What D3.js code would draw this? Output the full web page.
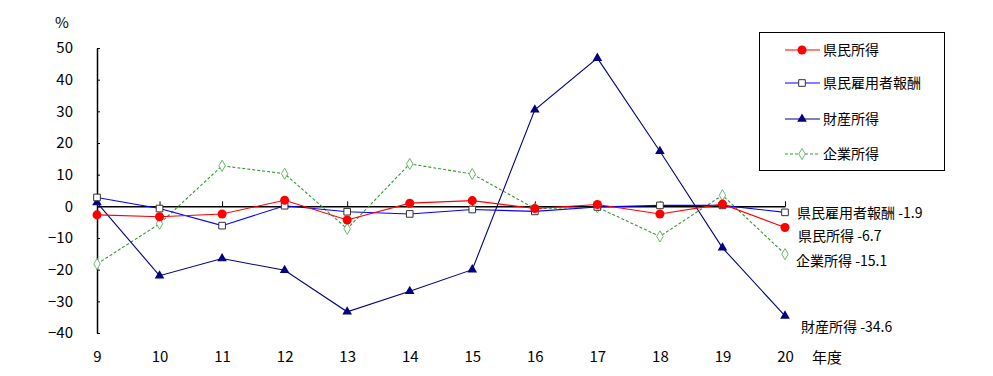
<!DOCTYPE html>
<html>
<head>
<meta charset="utf-8">
<script src="https://cdn.jsdelivr.net/npm/d3@7"></script>
<style>
  body { margin: 0; background: #fff; }
  svg text { font-family: "Noto Sans CJK JP", "DejaVu Sans", sans-serif; font-size: 14px; fill: #000; }
  svg .tick text { font-size: 15px; }
</style>
</head>
<body>
<svg id="chart" width="993" height="376"></svg>
<script>
// fiscal years
const years = ['9', '10', '11', '12', '13', '14', '15', '16', '17', '18', '19', '20']
const yTicks = [-40, -30, -20, -10, 0, 10, 20, 30, 40, 50]

// growth rates, %
const kenminShotoku = [-2.7, -3.3, -2.4, 1.9, -4.3, 1.0, 1.8, -0.7, 0.6, -2.4, 0.7, -6.7]
const koyoshaHoshu = [2.8, -0.7, -6.1, 0.2, -1.7, -2.4, -1.0, -1.6, -0.2, 0.3, 0.3, -1.9]
const zaisanShotoku = [1.2, -21.9, -16.5, -20.2, -33.3, -26.8, -20.0, 30.5, 46.8, 17.4, -13.1, -34.6]
const kigyoShotoku = [-18.2, -5.5, 12.8, 10.3, -7.1, 13.4, 10.2, -0.7, -0.3, -9.5, 3.5, -15.1]

const series = [
  { name: '県民所得', values: kenminShotoku, color: '#ff0000', marker: 'circle' },
  { name: '県民雇用者報酬', values: koyoshaHoshu, color: '#0000ff', marker: 'square' },
  { name: '財産所得', values: zaisanShotoku, color: '#000080', marker: 'triangle' },
  { name: '企業所得', values: kigyoShotoku, color: '#339933', marker: 'diamond', dash: '3,2' }
]

const svg = d3.select('#chart')

const x = d3.scalePoint().domain(years).range([97, 785])
const y = d3.scaleLinear().domain([-40, 50]).range([333, 48])

// y axis, ticks pointing inward
svg.append('g')
  .attr('transform', 'translate(97,0)')
  .call(d3.axisLeft(y).tickValues(yTicks).tickSizeInner(-3).tickSizeOuter(0).tickPadding(24))
  .call(g => g.select('.domain').attr('stroke', '#000').attr('stroke-width', 1.5))
  .call(g => g.selectAll('.tick line').attr('stroke', '#000'))

// zero line with category ticks
svg.append('g')
  .attr('transform', `translate(0,${y(0)})`)
  .call(d3.axisBottom(x).tickSizeInner(-5).tickSizeOuter(0).tickFormat(''))
  .call(g => g.select('.domain').attr('stroke', '#000').attr('stroke-width', 1.5))
  .call(g => g.selectAll('.tick line').attr('stroke', '#000'))

// category labels at the bottom
svg.append('g')
  .attr('transform', 'translate(0,333)')
  .call(d3.axisBottom(x).tickSize(0).tickPadding(18))
  .call(g => g.select('.domain').remove())

svg.append('text').attr('x', 55).attr('y', 28).style('font-size', '15px').text('%')
svg.append('text').attr('x', 812).attr('y', 363).style('font-size', '15px').text('年度')

const symbolFor = {
  circle: d3.symbol(d3.symbolCircle, 64),
  square: d3.symbol(d3.symbolSquare, 44),
  triangle: d3.symbol(d3.symbolTriangle, 40),
  diamond: d3.symbol(d3.symbolDiamond, 36)
}

function drawMarker(g, s) {
  const p = g.append('path').attr('d', symbolFor[s.marker]())
  if (s.marker == 'circle') p.attr('fill', '#ff0000')
  else if (s.marker == 'square') p.attr('fill', '#fff').attr('stroke', '#333').attr('stroke-width', 1)
  else if (s.marker == 'triangle') p.attr('fill', '#000080')
  else p.attr('fill', '#fff').attr('stroke', '#66bb66').attr('stroke-width', 1)
}

const line = d3.line()
  .x((d, i) => x(years[i]))
  .y(d => y(d))

// draw in reverse so red sits on top
for (const s of series.slice().reverse()) {
  svg.append('path')
    .datum(s.values)
    .attr('d', line)
    .attr('fill', 'none')
    .attr('stroke', s.color)
    .attr('stroke-width', 1.1)
    .attr('stroke-dasharray', s.dash || null)
  s.values.forEach((v, i) => {
    const g = svg.append('g').attr('transform', `translate(${x(years[i])},${y(v)})`)
    drawMarker(g, s)
  })
}

// end-of-line labels
const endLabels = [
  { text: '県民雇用者報酬 -1.9', x: 797, y: 218 },
  { text: '県民所得 -6.7', x: 798, y: 241 },
  { text: '企業所得 -15.1', x: 796, y: 266 },
  { text: '財産所得 -34.6', x: 801, y: 332 }
]
svg.selectAll('.endlabel')
  .data(endLabels)
  .join('text')
  .attr('class', 'endlabel')
  .attr('x', d => d.x)
  .attr('y', d => d.y)
  .text(d => d.text)

// legend
const legend = svg.append('g')
legend.append('rect')
  .attr('x', 759.5).attr('y', 32.5).attr('width', 185).attr('height', 138)
  .attr('fill', '#fff').attr('stroke', '#000')
const rowY = [50, 83, 119, 154]
series.forEach((s, i) => {
  const row = legend.append('g').attr('transform', `translate(0,${rowY[i]})`)
  row.append('line')
    .attr('x1', 785).attr('x2', 820)
    .attr('stroke', s.color).attr('stroke-width', 1.1)
    .attr('stroke-dasharray', s.dash || null)
  drawMarker(row.append('g').attr('transform', 'translate(802,0)'), s)
  row.append('text').attr('x', 823).attr('y', 5).text(s.name)
})
</script>
</body>
</html>
